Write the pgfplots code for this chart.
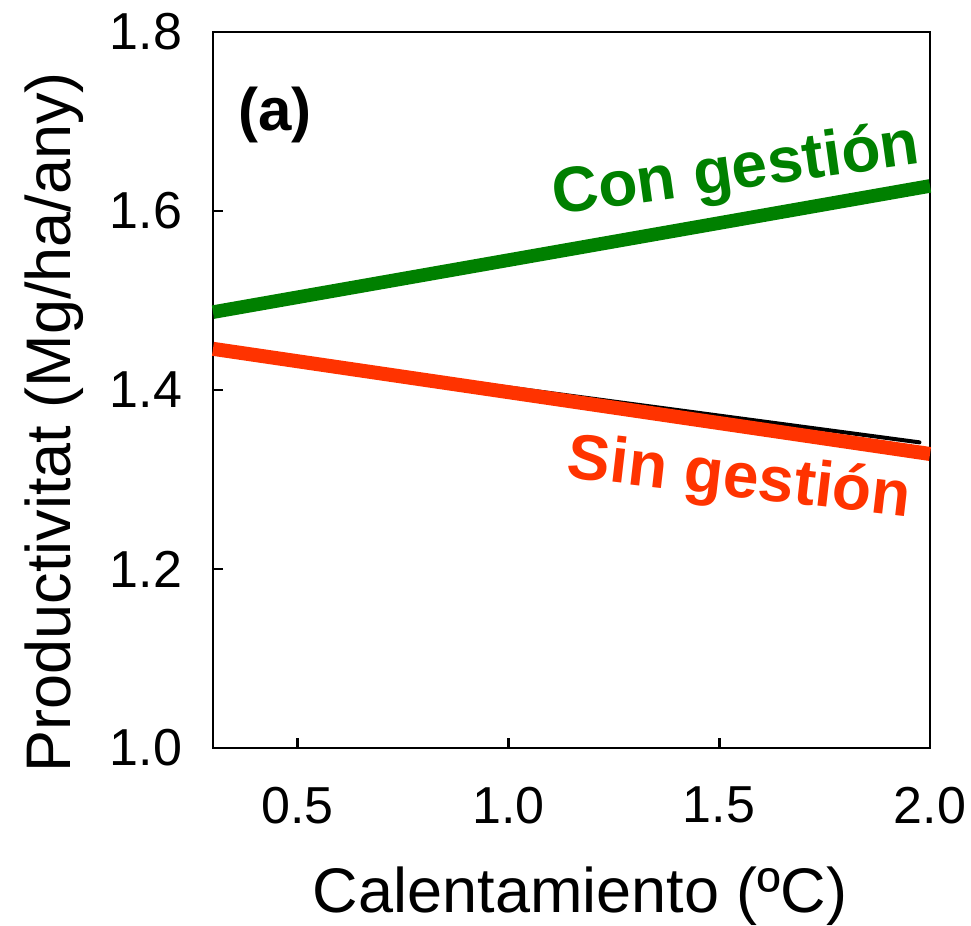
\documentclass[border=0pt]{standalone}
\usepackage{fontspec}
\setmainfont{Liberation Sans}
\usepackage{pgfplots}
\pgfplotsset{compat=1.18}
\definecolor{congreen}{RGB}{0,128,0}
\definecolor{sinred}{RGB}{255,51,0}

\begin{document}
\begin{tikzpicture}
\begin{axis}[
    name=ax,
    scale only axis,
    width=179.25pt, height=179pt,
    xmin=0.3, xmax=2.0, ymin=1.0, ymax=1.8,
    xtick={0.5,1.0,1.5,2.0},
    ytick={1.0,1.2,1.4,1.6,1.8},
    xtick pos=bottom, ytick pos=left,
    tick align=inside,
    major tick length=2.5pt,
    axis line style={line width=0.7pt},
    every tick/.style={black, line width=0.7pt},
    /pgf/number format/assume math mode=true,
    /pgf/number format/fixed,
    /pgf/number format/fixed zerofill,
    /pgf/number format/precision=1,
    ticklabel style={font=\fontsize{13}{15}\selectfont, inner sep=0pt},
    xticklabel style={anchor=north, yshift=-9.5pt},
    yticklabel style={anchor=east, xshift=-7.5pt},
    xlabel={Calentamiento (ºC)},
    ylabel={Productivitat (Mg/ha/any)},
    xlabel style={at={(axis description cs:0.512,-0.2304)}, anchor=base,
        inner sep=0pt, font=\fontsize{15.75}{18}\selectfont},
    ylabel style={at={(axis description cs:-0.1994,0.455)}, anchor=base,
        inner sep=0pt, font=\fontsize{15.75}{18}\selectfont},
    clip=false,
    no markers,
]
% regression line partly hidden under the red one
\addplot[black, line width=1pt, line cap=round] coordinates {(0.33,1.445) (1.975,1.3415)};
\addplot[sinred, line width=3.5pt] coordinates {(0.3,1.446) (2.0,1.3285)};
\addplot[congreen, line width=3.4pt] coordinates {(0.3,1.487) (2.0,1.628)};

\node[rotate=8, anchor=base west, inner sep=0pt, text=congreen,
    font=\bfseries\fontsize{16}{19}\selectfont] at (axis cs:1.11,1.5955) {Con gestión};
\node[rotate=-6.6, anchor=base west, inner sep=0pt, text=sinred,
    font=\bfseries\fontsize{16}{19}\selectfont] at (axis cs:1.135,1.3028) {Sin gestión};
\node[anchor=base west, inner sep=0pt,
    font=\bfseries\fontsize{15}{18}\selectfont] at (axis cs:0.358,1.6894) {(a)};
\end{axis}
\pgfresetboundingbox
\path ([xshift=-53.25pt,yshift=-44.5pt]ax.south west) rectangle ([xshift=10.25pt,yshift=8pt]ax.north east);
\end{tikzpicture}
\end{document}
